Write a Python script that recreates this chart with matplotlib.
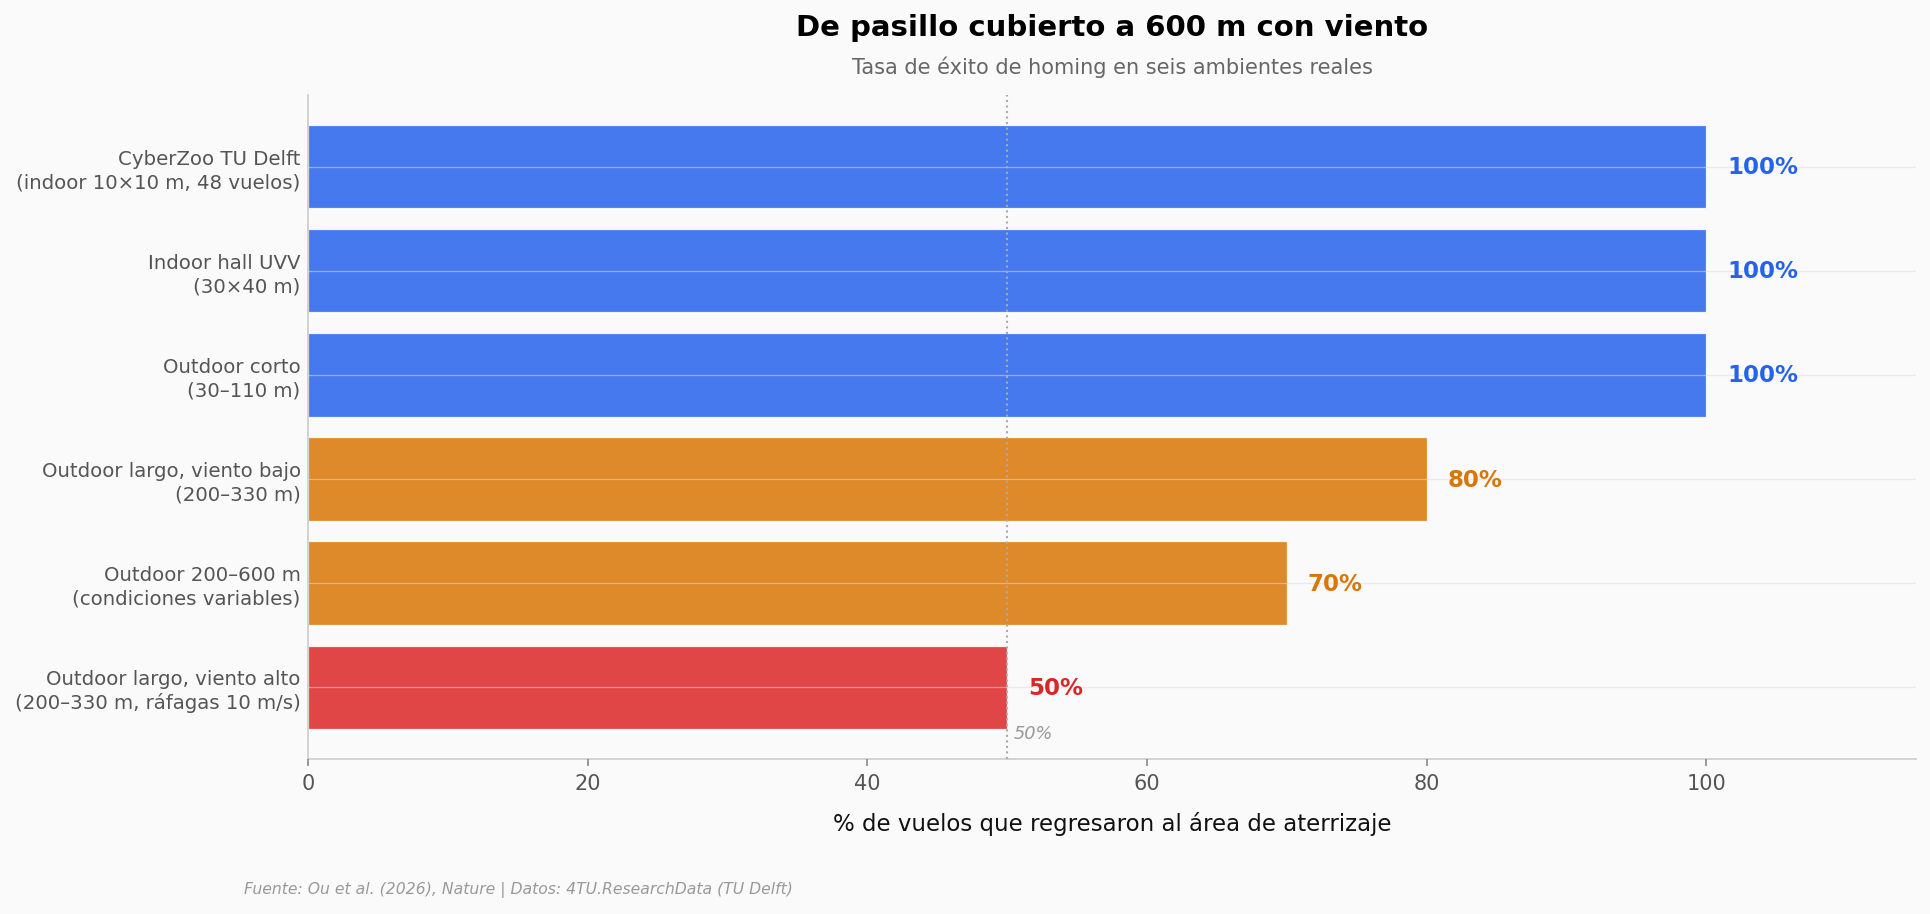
import matplotlib
matplotlib.use("Agg")
import matplotlib.pyplot as plt

# datos (de arriba a abajo)
ambientes = [
    "CyberZoo TU Delft\n(indoor 10×10 m, 48 vuelos)",
    "Indoor hall UVV\n(30×40 m)",
    "Outdoor corto\n(30–110 m)",
    "Outdoor largo, viento bajo\n(200–330 m)",
    "Outdoor 200–600 m\n(condiciones variables)",
    "Outdoor largo, viento alto\n(200–330 m, ráfagas 10 m/s)",
]
exito = [100, 100, 100, 80, 70, 50]
grupo = ["alto", "alto", "alto", "medio", "medio", "bajo"]

colores = {"alto": "#2563eb", "medio": "#d97706", "bajo": "#dc2626"}
bg = "#fafafa"

fig = plt.figure(figsize=(1930 / 150, 914 / 150), dpi=150, facecolor=bg)
ax = fig.add_axes([0.1596, 0.1696, 0.9927 - 0.1596, 0.8961 - 0.1696])
ax.set_facecolor(bg)

y = list(range(len(ambientes)))
cols = [colores[g] for g in grupo]
ax.barh(y, exito, height=0.8, color=cols, alpha=0.85,
        edgecolor="white", linewidth=0.6, zorder=1)

for yi, v, c in zip(y, exito, cols):
    ax.text(v + 1.5, yi + 0.01, f"{v}%", va="center", ha="left",
            fontsize=11, fontweight="bold", color=c, zorder=4)

ax.axvline(50, color="#aaaaaa", linestyle=":", linewidth=1.0, zorder=3)
ax.text(50.5, len(y) - 0.55, "50%", fontsize=8.5, style="italic",
        color="#999999", va="center", ha="left")

ax.set_yticks(y)
ax.set_yticklabels(ambientes, linespacing=1.3)
ax.invert_yaxis()
ax.set_xlim(0, 115)
ax.set_xticks([0, 20, 40, 60, 80, 100])

ax.grid(axis="y", color="#dddddd", alpha=0.55, linewidth=0.6)
ax.set_axisbelow(False)

for s in ["top", "right"]:
    ax.spines[s].set_visible(False)
for s in ["left", "bottom"]:
    ax.spines[s].set_color("#cccccc")
    ax.spines[s].set_linewidth(0.8)

ax.tick_params(axis="y", length=0, labelsize=9.5, labelcolor="#555555")
ax.tick_params(axis="x", labelsize=10, labelcolor="#555555", color="#888888")

ax.set_xlabel("% de vuelos que regresaron al área de aterrizaje",
              fontsize=11, color="#111111", labelpad=9)

cx = (0.1596 + 0.9927) / 2
fig.text(cx, 0.969, "De pasillo cubierto a 600 m con viento",
         ha="center", va="center", fontsize=14, fontweight="bold")
fig.text(cx, 0.926, "Tasa de éxito de homing en seis ambientes reales",
         ha="center", va="center", fontsize=10, color="#666666")
fig.text(0.1264, 0.026,
         "Fuente: Ou et al. (2026), Nature | Datos: 4TU.ResearchData (TU Delft)",
         ha="left", va="center", fontsize=7.5, style="italic", color="#999999")

fig.savefig("out.png", dpi=150, facecolor=bg)
